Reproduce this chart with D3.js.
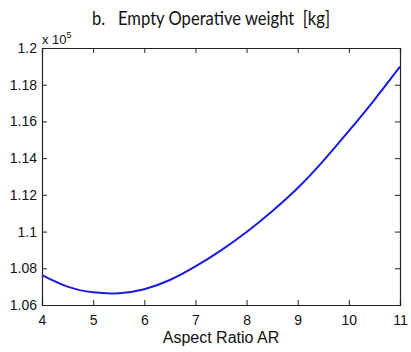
<!DOCTYPE html>
<html>
<head>
<meta charset="utf-8">
<script src="https://cdn.jsdelivr.net/npm/d3@7"></script>
<style>
  body { margin: 0; background: #fff; }
  svg { display: block; }
</style>
</head>
<body>
<svg id="chart" width="411" height="352"></svg>
<script>
// aspect ratio values and empty operative weight (x 10^5 kg)
var aspectRatio = [4, 4.5, 5, 5.5, 6, 6.5, 7, 7.5, 8, 8.5, 9, 9.5, 10, 10.5, 11]
var weight = [1.0763, 1.0700, 1.0669, 1.0664, 1.0686, 1.0736, 1.0810, 1.0898, 1.0998,
              1.1111, 1.1237, 1.1385, 1.1548, 1.1718, 1.1898]
var xTicks = [4, 5, 6, 7, 8, 9, 10, 11]
var yTicks = [1.06, 1.08, 1.1, 1.12, 1.14, 1.16, 1.18, 1.2]

var dimensions = {
    width: 411,
    height: 352,
    margin: { top: 48, right: 11, bottom: 47, left: 42 }
}
dimensions.boundedWidth = dimensions.width - dimensions.margin.left - dimensions.margin.right
dimensions.boundedHeight = dimensions.height - dimensions.margin.top - dimensions.margin.bottom

var data = aspectRatio.map((x, i) => ({ x: x, y: weight[i] }))

var svg = d3.select("#chart")

var g = svg.append("g")
    .attr("transform", "translate(" + dimensions.margin.left + "," + dimensions.margin.top + ")")

var xScale = d3.scaleLinear()
    .domain([4, 11])
    .range([0, dimensions.boundedWidth])

var yScale = d3.scaleLinear()
    .domain([1.06, 1.2])
    .range([dimensions.boundedHeight, 0])

var axisColor = "#222"
var tickFont = "'Liberation Sans', Arial, sans-serif"

// four axes, ticks point inward, labels only bottom and left
var axisBottomG = g.append("g")
    .attr("transform", "translate(0," + dimensions.boundedHeight + ")")
    .call(d3.axisBottom(xScale).tickValues(xTicks).tickSize(-5).tickPadding(10).tickFormat(d3.format("d")))
var axisLeftG = g.append("g")
    .call(d3.axisLeft(yScale).tickValues(yTicks).tickSize(-5).tickPadding(5).tickFormat(d => String(+d.toFixed(2))))
var axisTopG = g.append("g")
    .call(d3.axisTop(xScale).tickValues(xTicks).tickSize(-5).tickFormat(""))
var axisRightG = g.append("g")
    .attr("transform", "translate(" + dimensions.boundedWidth + ",0)")
    .call(d3.axisRight(yScale).tickValues(yTicks).tickSize(-5).tickFormat(""))

;[axisBottomG, axisLeftG, axisTopG, axisRightG].forEach(function (a) {
    a.select(".domain").attr("stroke", axisColor).attr("stroke-width", 1.2)
    a.selectAll(".tick line").attr("stroke", axisColor).attr("stroke-width", 1)
    a.selectAll("text")
        .attr("fill", "#111")
        .style("font-family", tickFont)
        .style("font-size", "14px")
})

// the curve
var line = d3.line()
    .x(d => xScale(d.x))
    .y(d => yScale(d.y))
    .curve(d3.curveNatural)

g.append("path")
    .datum(data)
    .attr("fill", "none")
    .attr("stroke", "#1c1ce0")
    .attr("stroke-width", 2)
    .attr("d", line)

// exponent label
var expo = svg.append("text")
    .attr("x", dimensions.margin.left)
    .attr("y", dimensions.margin.top - 4)
    .style("font-family", tickFont)
    .style("font-size", "13px")
    .attr("fill", "#111")
expo.append("tspan").text("x 10")
expo.append("tspan").attr("dy", -6).style("font-size", "9px").text("5")

// title (squeezed a little, the original font is narrow)
svg.append("text")
    .attr("x", 92)
    .attr("y", 25)
    .attr("textLength", 238)
    .attr("lengthAdjust", "spacingAndGlyphs")
    .style("font-family", "Lato, 'Open Sans', sans-serif")
    .style("font-size", "20px")
    .attr("fill", "#111")
    .attr("xml:space", "preserve")
    .text("b.   Empty Operative weight  [kg]")

// x label
svg.append("text")
    .attr("x", dimensions.margin.left + dimensions.boundedWidth / 2)
    .attr("y", 343)
    .attr("text-anchor", "middle")
    .style("font-family", tickFont)
    .style("font-size", "16px")
    .attr("fill", "#111")
    .text("Aspect Ratio AR")
</script>
</body>
</html>
